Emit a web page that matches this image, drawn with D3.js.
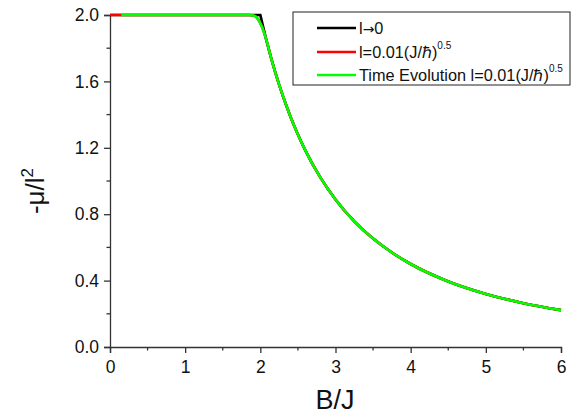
<!DOCTYPE html>
<html><head><meta charset="utf-8">
<script src="https://cdn.jsdelivr.net/npm/d3@7"></script>
<style>body{margin:0;background:#fff;}svg{display:block;font-family:Arial,"Liberation Sans",sans-serif;}</style>
</head><body>
<svg id="c" width="571" height="415"></svg>
<script>
const xTicks = [0,1,2,3,4,5,6];
const yTicks = [0.0,0.4,0.8,1.2,1.6,2.0];
const blackB = [0,0.5,1,1.5,2.0,2.1,2.2,2.3,2.4,2.5,2.6,2.8,3.0,3.25,3.5,3.75,4,4.5,5,5.5,6];
const blackV = [2,2,2,2,2,1.814,1.653,1.512,1.389,1.28,1.183,1.02,0.889,0.757,0.653,0.569,0.5,0.395,0.32,0.264,0.222];
const redB = [0,0.5,1,1.5,1.85,1.92,1.97,2.02,2.08,2.15,2.25,2.4,2.5,2.6,2.8,3.0,3.25,3.5,3.75,4,4.5,5,5.5,6];
const redV = [2,2,2,2,2,1.995,1.975,1.93,1.85,1.73,1.58,1.389,1.28,1.183,1.02,0.889,0.757,0.653,0.569,0.5,0.395,0.32,0.264,0.222];
const greenB = [0.15,0.5,1,1.5,1.85,1.92,1.97,2.02,2.08,2.15,2.25,2.4,2.5,2.6,2.8,3.0,3.25,3.5,3.75,4,4.5,5,5.5,6];
const greenV = [2,2,2,2,2,1.995,1.975,1.93,1.85,1.73,1.58,1.389,1.28,1.183,1.02,0.889,0.757,0.653,0.569,0.5,0.395,0.32,0.264,0.222];

const svg = d3.select("#c");
const x = d3.scaleLinear().domain([0,6]).range([110,561]);
const y = d3.scaleLinear().domain([0,2]).range([347,15]);

// axes
const xAxis = d3.axisBottom(x).tickValues(xTicks).tickFormat(d3.format("d")).tickSize(6).tickPadding(8);
const gx = svg.append("g").attr("transform","translate(0,347)").call(xAxis);
const yAxis = d3.axisLeft(y).tickValues(yTicks).tickFormat(d3.format(".1f")).tickSize(6).tickPadding(5);
const gy = svg.append("g").attr("transform","translate(110,0)").call(yAxis);
[gx,gy].forEach(g=>{
  g.select(".domain").attr("stroke","#333").attr("stroke-width",1.3);
  g.selectAll(".tick line").attr("stroke","#333").attr("stroke-width",1.3);
  g.selectAll(".tick text").attr("font-size",17.5).attr("fill","#111").attr("font-family","Arial,'Liberation Sans',sans-serif");
});
// minor ticks
const xMinor = [0.5,1.5,2.5,3.5,4.5,5.5];
svg.append("g").selectAll("line").data(xMinor).join("line")
  .attr("x1",d=>x(d)).attr("x2",d=>x(d)).attr("y1",347).attr("y2",350.5)
  .attr("stroke","#333").attr("stroke-width",1.3);
const yMinor = [0.2,0.6,1.0,1.4,1.8];
svg.append("g").selectAll("line").data(yMinor).join("line")
  .attr("x1",106.5).attr("x2",110).attr("y1",d=>y(d)).attr("y2",d=>y(d))
  .attr("stroke","#333").attr("stroke-width",1.3);

// lines
const smooth = d3.line().x(d=>x(d[0])).y(d=>y(d[1])).curve(d3.curveMonotoneX);
const sharp = d3.line().x(d=>x(d[0])).y(d=>y(d[1])).curve(d3.curveLinear);
function zip(a,b){return a.map((v,i)=>[v,b[i]]);}
svg.append("path").attr("d", (function(){
  const pts = zip(blackB,blackV);
  const flat = pts.filter(p=>p[0]<=2), tail = pts.filter(p=>p[0]>=2);
  return sharp(flat) + smooth(tail).replace(/^M/,"L");
})()).attr("fill","none").attr("stroke","#000").attr("stroke-width",2.6);
svg.append("path").attr("d",smooth(zip(redB,redV))).attr("fill","none").attr("stroke","#ff0000").attr("stroke-width",2.6);
svg.append("path").attr("d",smooth(zip(greenB,greenV))).attr("fill","none").attr("stroke","#00ff00").attr("stroke-width",2.6);

// axis titles
svg.append("text").attr("x",335).attr("y",409).attr("text-anchor","middle")
  .attr("font-size",27).attr("fill","#111").text("B/J");
const yl = svg.append("text").attr("transform","translate(44,191) rotate(-90)")
  .attr("text-anchor","middle").attr("font-size",26).attr("fill","#111");
yl.append("tspan").text("-\u03bc/l");
yl.append("tspan").attr("dy",-11).attr("font-size",17).text("2");

// legend
const lg = svg.append("g");
lg.append("rect").attr("x",293).attr("y",12).attr("width",277).attr("height",73)
  .attr("fill","#fff").attr("stroke","#222").attr("stroke-width",1);
const legItems = [
  {c:"#000", parts:[["l",null],["\u2192","arrow"],["0",null]]},
  {c:"#ff0000", parts:[["l=0.01(J/\u210f)",null],["0.5","sup"]]},
  {c:"#00ff00", parts:[["Time Evolution l=0.01(J/\u210f)",null],["0.5","sup"]]}
];
const rowY = [28,52,75];
legItems.forEach((it,i)=>{
  lg.append("line").attr("x1",317).attr("x2",356).attr("y1",rowY[i]).attr("y2",rowY[i])
    .attr("stroke",it.c).attr("stroke-width",2.6);
  const t = lg.append("text").attr("x",359).attr("y",rowY[i]+6).attr("font-size",16.3).attr("fill","#111");
  it.parts.forEach(p=>{
    if(p[1]==="sup") t.append("tspan").attr("dy",-9).attr("font-size",10).text(p[0]);
    else if(p[1]==="arrow") t.append("tspan").attr("font-family","'DejaVu Sans'").attr("font-size",14).text(p[0]);
    else t.append("tspan").text(p[0]);
  });
});
</script>
</body></html>
